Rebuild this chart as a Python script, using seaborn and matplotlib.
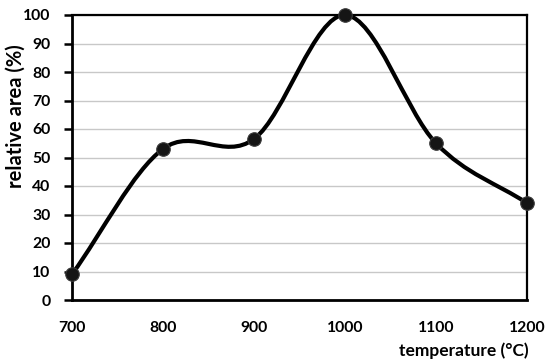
import numpy as np
import pandas as pd
import seaborn as sns
import matplotlib
matplotlib.use("Agg")
import matplotlib.pyplot as plt
from matplotlib.path import Path
from matplotlib.patches import PathPatch

temperature = [700, 800, 900, 1000, 1100, 1200]
relative_area = [9, 53, 56.5, 100, 55, 34]
x_ticks = [700, 800, 900, 1000, 1100, 1200]
y_ticks = [0, 10, 20, 30, 40, 50, 60, 70, 80, 90, 100]

sns.set_theme(style="white")
plt.rcParams['font.family'] = ['Lato', 'DejaVu Sans']
plt.rcParams['font.weight'] = 'bold'

df = pd.DataFrame({"temperature": temperature, "relative_area": relative_area})

fig = plt.figure(figsize=(5.5, 3.61), dpi=100)
ax = fig.add_axes([72/550, 1-300/361, (527-72)/550, (300-15)/361])

# smoothed (Excel-like Catmull-Rom) curve through the data points
pts = np.column_stack([df["temperature"], df["relative_area"]]).astype(float)
ext = np.vstack([2*pts[0]-pts[1], pts, 2*pts[-1]-pts[-2]])
verts = [tuple(pts[0])]
codes = [Path.MOVETO]
for i in range(1, len(ext)-2):
    p0, p1, p2, p3 = ext[i-1], ext[i], ext[i+1], ext[i+2]
    c1 = p1 + (p2 - p0) / 6.0
    c2 = p2 - (p3 - p1) / 6.0
    verts += [tuple(c1), tuple(c2), tuple(p2)]
    codes += [Path.CURVE4]*3
ax.add_patch(PathPatch(Path(verts, codes), facecolor='none', edgecolor='black',
                       lw=3.0, capstyle='round', joinstyle='round', zorder=3))

sns.scatterplot(data=df, x="temperature", y="relative_area", ax=ax, s=95,
                color='#151515', edgecolor='#3a3a3a', linewidth=0.8, zorder=4,
                clip_on=False)

ax.set_xlim(700, 1200)
ax.set_ylim(0, 100)
ax.set_xticks(x_ticks)
ax.set_yticks(y_ticks)
ax.yaxis.grid(True, color='#c8c8c8', lw=1.0)
ax.xaxis.grid(False)
ax.set_axisbelow(True)

for side in ['left', 'bottom']:
    ax.spines[side].set_linewidth(2.0)
    ax.spines[side].set_color('black')
for side in ['top', 'right']:
    ax.spines[side].set_linewidth(1.6)
    ax.spines[side].set_color('black')

ax.tick_params(axis='y', left=True, length=5.5, width=1.8, color='black', pad=10,
               labelsize=11.3, labelcolor='black')
ax.tick_params(axis='x', bottom=False, length=0, pad=15, labelsize=11.3,
               labelcolor='black')
for lab in ax.get_xticklabels() + ax.get_yticklabels():
    lab.set_fontweight('bold')

ax.set_xlabel("temperature (°C)", fontsize=12.5, fontweight='bold', color='black',
              ha='right', va='top')
ax.xaxis.set_label_coords(1.003, -0.148)
ax.set_ylabel("relative area (%)", fontsize=14.5, fontweight='bold', color='black',
              ha='center', va='center')
ax.yaxis.set_label_coords(-0.123, 0.644)

fig.savefig("out.png", dpi=100)
